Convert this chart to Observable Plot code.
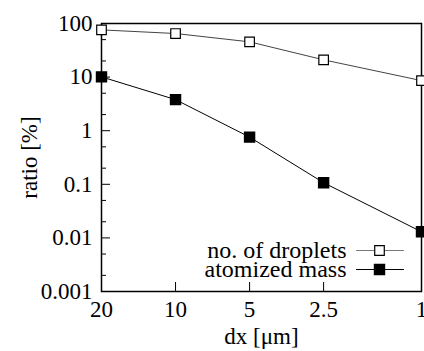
<!DOCTYPE html>
<html>
<head>
<meta charset="utf-8">
<script src="https://cdn.jsdelivr.net/npm/d3@7"></script>
<script src="https://cdn.jsdelivr.net/npm/@observablehq/plot@0.6"></script>
<style>
  html, body { margin: 0; padding: 0; background: white; }
  svg text { font-family: "Liberation Serif", "DejaVu Serif", serif !important; }
</style>
</head>
<body>
<div id="chart"></div>
<script>
const dx = [20, 10, 5, 2.5, 1];
const droplets = [76, 65, 45.5, 21, 8.6];
const mass = [10.1, 3.8, 0.76, 0.107, 0.013];
const xTicks = [20, 10, 5, 2.5, 1];
const yMajor = [0.001, 0.01, 0.1, 1, 10, 100];
const yMinor = [0.002, 0.005, 0.02, 0.05, 0.2, 0.5, 2, 5, 20, 50];
const seriesNames = ["no. of droplets", "atomized mass"];

const dropData = dx.map((x, i) => ({x, y: droplets[i]}));
const massData = dx.map((x, i) => ({x, y: mass[i]}));

const tickLine = {draw(ctx, l) { ctx.moveTo(0, 0); ctx.lineTo(0, -l); }};
const font = "Liberation Serif, DejaVu Serif, serif";
const textOpts = {fontFamily: font, fontSize: 23};
const legendOpts = {fontFamily: font, fontSize: 24};

const chart = Plot.plot({
  width: 424,
  height: 351,
  marginLeft: 101,
  marginRight: 3,
  marginTop: 23,
  marginBottom: 60,
  style: {fontFamily: font, fontSize: "23px", background: "white", color: "black", overflow: "visible"},
  x: {type: "log", domain: [20, 1]},
  y: {type: "log", domain: [0.001, 100]},
  marks: [
    Plot.axisY({ticks: yMinor, tickSize: -5, tickFormat: () => "", label: null}),
    Plot.axisY({ticks: yMajor, tickSize: -9, tickFormat: d => String(d), label: null, tickPadding: 18, fontVariant: "normal", ...textOpts}),
    Plot.axisX({ticks: xTicks, tickSize: -9, tickFormat: d => String(d), label: null, tickPadding: 18, fontVariant: "normal", ...textOpts}),
    Plot.frame({stroke: "black", strokeWidth: 1.5}),
    Plot.line(dropData, {x: "x", y: "y", stroke: "#444", strokeWidth: 1}),
    Plot.line(massData, {x: "x", y: "y", stroke: "black", strokeWidth: 1}),
    Plot.dot(dropData, {x: "x", y: "y", symbol: "square", r: 5.4, fill: "white", stroke: "black", strokeWidth: 1.2}),
    Plot.dot(massData, {x: "x", y: "y", symbol: "square", r: 5.6, fill: "black", stroke: "black"}),
    // axis titles
    Plot.text(["ratio [%]"], {frameAnchor: "left", dx: -72, rotate: -90, textAnchor: "middle", lineAnchor: "middle", ...textOpts}),
    Plot.text(["dx [μm]"], {frameAnchor: "bottom", dy: 45, textAnchor: "middle", lineAnchor: "middle", ...textOpts}),
    // legend
    Plot.text([seriesNames[0]], {frameAnchor: "bottom-right", dx: -75, dy: -41, textAnchor: "end", lineAnchor: "middle", ...legendOpts}),
    Plot.text([seriesNames[1]], {frameAnchor: "bottom-right", dx: -75, dy: -22, textAnchor: "end", lineAnchor: "middle", ...legendOpts}),
    Plot.vector([0], {frameAnchor: "bottom-right", dx: -65, dy: -41, rotate: 90, length: 47, anchor: "start", shape: tickLine, stroke: "#777", strokeWidth: 1}),
    Plot.vector([0], {frameAnchor: "bottom-right", dx: -65, dy: -22, rotate: 90, length: 47, anchor: "start", shape: tickLine, stroke: "black", strokeWidth: 1}),
    Plot.dot([0], {frameAnchor: "bottom-right", dx: -42, dy: -41, symbol: "square", r: 5.4, fill: "white", stroke: "black", strokeWidth: 1.2}),
    Plot.dot([0], {frameAnchor: "bottom-right", dx: -42, dy: -22, symbol: "square", r: 5.6, fill: "black", stroke: "black"})
  ]
});
document.getElementById("chart").appendChild(chart);
</script>
</body>
</html>
